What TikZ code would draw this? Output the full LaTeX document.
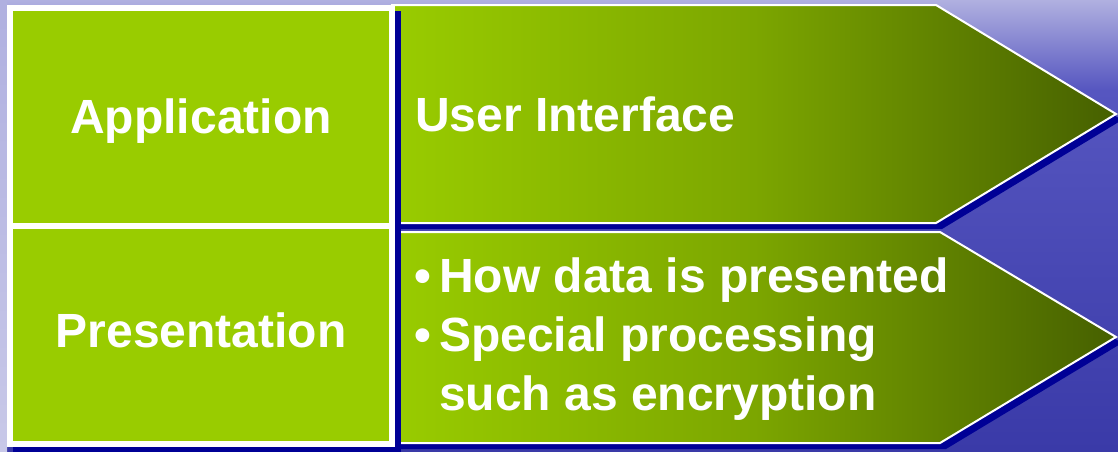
\documentclass[tikz,border=0pt]{standalone}
\usepackage{fontspec}
\setmainfont{Liberation Sans}
\begin{document}
\begin{tikzpicture}[x=1pt,y=-1pt,
  lbl/.style={inner sep=0pt, text=white, font=\fontsize{48}{58}\selectfont\bfseries},
  layerbox/.style={draw=white, line width=6pt, fill=leafgreen},
  sigbox/.style={draw=white, line width=2pt, left color=leafgreen, right color=olivedark, middle color=olivemid},
  shadowfill/.style={fill=navyshadow, draw=none}
]
\definecolor{leafgreen}{RGB}{153,204,0}
\definecolor{olivemid}{RGB}{124,166,0}
\definecolor{olivedark}{RGB}{70,96,0}
\definecolor{navyshadow}{RGB}{0,0,150}
\definecolor{bgtop}{RGB}{176,176,224}
\definecolor{bgmid}{RGB}{86,86,192}
\definecolor{bgbot}{RGB}{58,58,168}
\definecolor{bgedge}{RGB}{200,200,232}

\useasboundingbox (0,0) rectangle (1118,451);

% water backdrop
\shade[top color=bgtop, bottom color=bgmid] (0,0) rectangle (1118,90);
\shade[top color=bgmid, bottom color=bgbot] (0,90) rectangle (1118,451);
\shade[top color=bgtop, bottom color=bgedge] (0,0) rectangle (7,451);

% pointed content panels: shadow first, then the panel
\fill[shadowfill, shift={(6,6)}] (392,5) -- (936,5) -- (1116,114) -- (936,223) -- (392,223) -- cycle;
\path[sigbox] (392,5) -- (936,5) -- (1116,114) -- (936,223) -- (392,223) -- cycle;

\fill[shadowfill, shift={(6,6)}] (392,232) -- (940,232) -- (1116,337) -- (940,443) -- (392,443) -- cycle;
\path[sigbox] (392,232) -- (940,232) -- (1116,337) -- (940,443) -- (392,443) -- cycle;

% layer name column
\fill[shadowfill] (13,11) rectangle (401,453);
\node[layerbox, minimum width=382pt, minimum height=218pt, inner sep=0pt] (app) at (201,117) {};
\node[layerbox, minimum width=382pt, minimum height=218pt, inner sep=0pt] (pres) at (201,335) {};

% labels
\node[lbl, anchor=base] (tapp) at (201,133) {Application};
\node[lbl, anchor=base] (tpres) at (201,347) {Presentation};
\node[lbl, anchor=base west] (tui) at (415,131) {User Interface};

\node[lbl, anchor=base] (dot1) at (423,292) {•};
\node[lbl, anchor=base west] (b1) at (439,292) {How data is presented};
\node[lbl, anchor=base] (dot2) at (423,351) {•};
\node[lbl, anchor=base west] (b2) at (439,351) {Special processing};
\node[lbl, anchor=base west] (b3) at (439,410) {such as encryption};
\end{tikzpicture}
\end{document}
